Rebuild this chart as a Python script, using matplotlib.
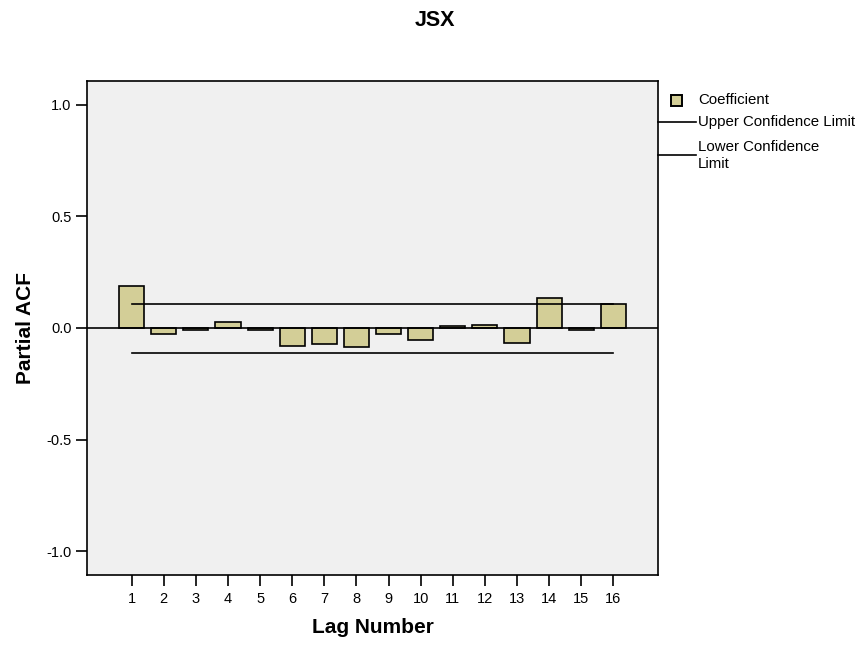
import matplotlib.pyplot as plt
from matplotlib.lines import Line2D
from matplotlib.patches import Rectangle

plt.rcParams['font.family'] = ['Liberation Sans', 'DejaVu Sans']

lags = list(range(1, 17))
pacf = [0.188, -0.028, -0.010, 0.027, -0.010, -0.080, -0.070, -0.085,
        -0.025, -0.055, 0.010, 0.015, -0.067, 0.136, -0.010, 0.107]
upper = [0.109] * 16
lower = [-0.110] * 16
yticks = [-1.0, -0.5, 0.0, 0.5, 1.0]

W, H = 864, 645
fig = plt.figure(figsize=(W / 100, H / 100), dpi=100)
ax = fig.add_axes([86.7 / W, 1 - 575.3 / H, (658.3 - 86.7) / W, (575.3 - 80.7) / H])
ax.set_facecolor('#f0f0f0')

bar_color = '#d3ce97'
ax.bar(lags, pacf, width=0.78, color=bar_color, edgecolor='black', linewidth=1.2, zorder=2)
ax.axhline(0, color='black', linewidth=1.2, zorder=3)
ax.plot(lags, upper, color='black', linewidth=1.2, zorder=3)
ax.plot(lags, lower, color='black', linewidth=1.2, zorder=3)

ax.set_xlim(-0.4, 17.4)
ax.set_ylim(-1.107, 1.107)
ax.set_xticks(lags)
ax.set_yticks(yticks)
ax.set_yticklabels([f'{v:.1f}' for v in yticks])
ax.tick_params(axis='both', direction='out', length=8, width=1.2, labelsize=10.5,
               colors='black', pad=3)
ax.tick_params(axis='x', pad=4)
for s in ax.spines.values():
    s.set_linewidth(1.2)

ax.set_xlabel('Lag Number', fontsize=15, fontweight='bold', labelpad=9)
ax.set_ylabel('Partial ACF', fontsize=15, fontweight='bold', labelpad=8)
fig.text(435 / W, 1 - 21 / H, 'JSX', fontsize=15.5, fontweight='bold',
         ha='center', va='center')

# legend drawn by hand to the right of the plot
def fx(x):
    return x / W

def fy(y):
    return 1 - y / H

fig.patches.append(Rectangle((fx(671), fy(105.5)), 10.5 / W, 10 / H, transform=fig.transFigure,
                             facecolor=bar_color, edgecolor='black', linewidth=1.4))
fig.text(fx(698), fy(100), 'Coefficient', fontsize=10.8, va='center')
fig.lines.append(Line2D([fx(658), fx(696)], [fy(122.3), fy(122.3)], transform=fig.transFigure,
                        color='black', linewidth=1.2))
fig.text(fx(698), fy(122.3), 'Upper Confidence Limit', fontsize=10.8, va='center')
fig.lines.append(Line2D([fx(658), fx(696)], [fy(155), fy(155)], transform=fig.transFigure,
                        color='black', linewidth=1.2))
fig.text(fx(698), fy(146.7), 'Lower Confidence', fontsize=10.8, va='center')
fig.text(fx(698), fy(163.5), 'Limit', fontsize=10.8, va='center')

fig.savefig('out.png', dpi=100)
